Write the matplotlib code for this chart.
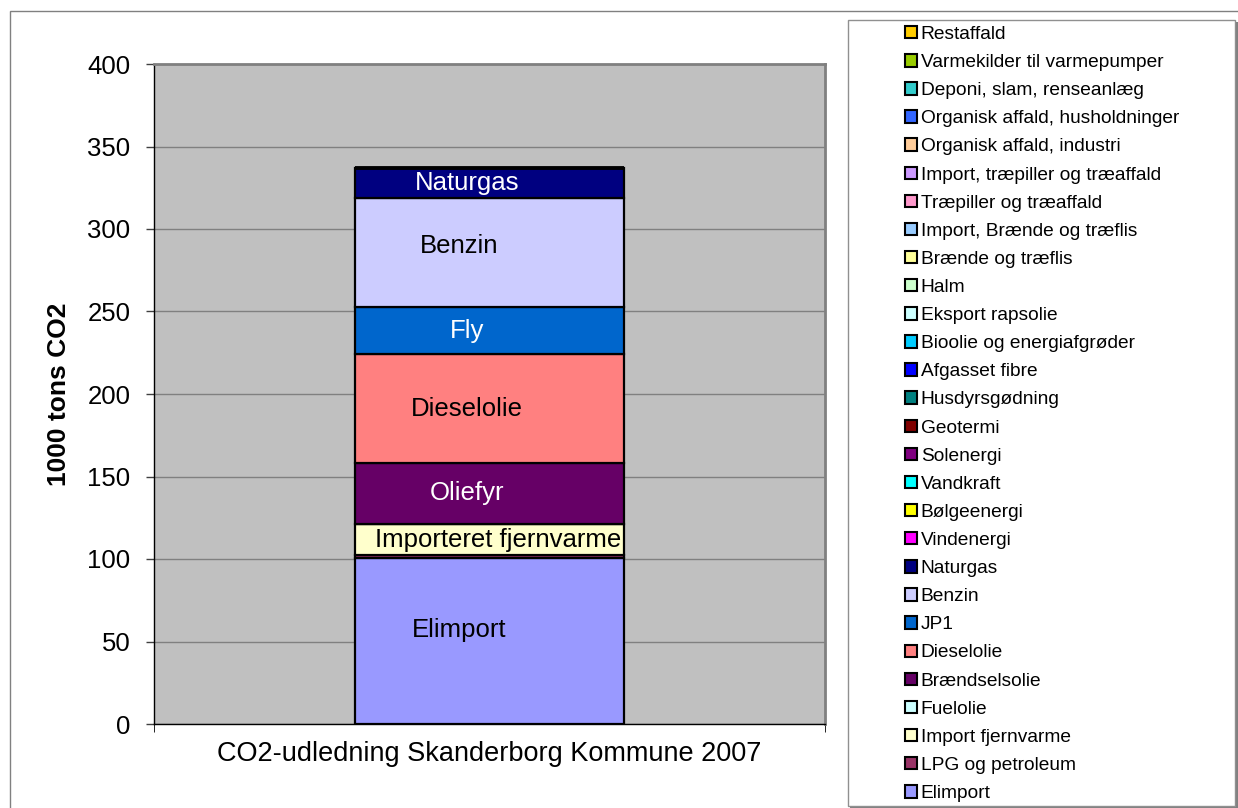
import matplotlib
matplotlib.use('Agg')
import matplotlib.pyplot as plt
from matplotlib.patches import Patch, Rectangle

plt.rcParams['font.family'] = ['Liberation Sans', 'DejaVu Sans']

# stacking order, bottom to top
series = ['Elimport', 'LPG og petroleum', 'Import fjernvarme', 'Fuelolie',
          'Brændselsolie', 'Dieselolie', 'JP1', 'Benzin', 'Naturgas',
          'Vindenergi', 'Bølgeenergi', 'Vandkraft', 'Solenergi', 'Geotermi',
          'Husdyrsgødning', 'Afgasset fibre', 'Bioolie og energiafgrøder',
          'Eksport rapsolie', 'Halm', 'Brænde og træflis',
          'Import, Brænde og træflis', 'Træpiller og træaffald',
          'Import, træpiller og træaffald', 'Organisk affald, industri',
          'Organisk affald, husholdninger', 'Deponi, slam, renseanlæg',
          'Varmekilder til varmepumper', 'Restaffald']
values = [100.5, 1.9, 18.8, 0, 37.0, 66.0, 28.5, 66.0, 18.2,
          0, 0, 0, 0, 0, 0, 0, 0, 0, 0, 0, 0, 0, 0, 0, 0, 0, 0, 0]
colors = ['#9999FF', '#993366', '#FFFFCC', '#CCFFFF', '#660066', '#FF8080',
          '#0066CC', '#CCCCFF', '#000080', '#FF00FF', '#FFFF00', '#00FFFF',
          '#800080', '#800000', '#008080', '#0000FF', '#00CCFF', '#CCFFFF',
          '#CCFFCC', '#FFFF99', '#99CCFF', '#FF99CC', '#CC99FF', '#FFCC99',
          '#3366FF', '#33CCCC', '#99CC00', '#FFCC00']
# text shown inside the bar segments
bar_labels = {'Elimport': 'Elimport',
              'Import fjernvarme': 'Importeret fjernvarme',
              'Brændselsolie': 'Oliefyr',
              'Dieselolie': 'Dieselolie',
              'JP1': 'Fly',
              'Benzin': 'Benzin',
              'Naturgas': 'Naturgas'}
light_text = ['Naturgas', 'JP1', 'Brændselsolie']
# small nudges of label placement (points)
label_nudge = {'Elimport': (-22, 8), 'Benzin': (-22, 5),
               'Import fjernvarme': (6, 0)}

category = 'CO2-udledning Skanderborg Kommune 2007'
yticks = [0, 50, 100, 150, 200, 250, 300, 350, 400]


def main():
    fig = plt.figure(figsize=(12.38, 8.08), dpi=100)
    ax = fig.add_axes([154 / 1238, 84 / 808, 671 / 1238, 660 / 808])
    ax.set_facecolor('#C0C0C0')

    bottom = 0
    for name, val, col in zip(series, values, colors):
        ax.bar(0, val, width=0.4, bottom=bottom, color=col,
               edgecolor='black', linewidth=1.6, zorder=3)
        if name in bar_labels:
            dx, dy = label_nudge.get(name, (-16, 0))
            ax.annotate(bar_labels[name], (0, bottom + val / 2),
                        xytext=(dx, dy), textcoords='offset points',
                        ha='center', va='center', fontsize=18.5, zorder=4,
                        color='white' if name in light_text else 'black')
        bottom += val

    ax.set_xlim(-0.5, 0.5)
    ax.set_ylim(0, 400)
    ax.set_yticks(yticks)
    ax.yaxis.grid(True, color='#808080', linewidth=1, zorder=0)
    ax.tick_params(axis='y', labelsize=18.5, length=6, width=1, pad=11,
                   direction='out', color='#404040')
    ax.set_xticks([0])
    ax.set_xticklabels([category], fontsize=19.5)
    ax.tick_params(axis='x', length=0, pad=12)
    ax.set_xticks([-0.5, 0.5], minor=True)
    ax.tick_params(axis='x', which='minor', length=6, direction='out')
    ax.set_ylabel('1000 tons CO2', fontsize=19, fontweight='bold',
                  labelpad=12)

    for s in ['top', 'right']:
        ax.spines[s].set_color('#808080')
        ax.spines[s].set_linewidth(2)
    for s in ['left', 'bottom']:
        ax.spines[s].set_color('black')
        ax.spines[s].set_linewidth(1)

    # chart area frame
    fig.patches.append(Rectangle((10 / 1238, -0.05), 1.1, 797 / 808 + 0.05,
                                 transform=fig.transFigure, fill=False,
                                 edgecolor='#808080', linewidth=1))
    # legend box with shadow
    fig.patches.append(Rectangle((850 / 1238, 0 / 808), 388 / 1238, 786 / 808,
                                 transform=fig.transFigure, fill=True,
                                 facecolor='#808080', edgecolor='none'))
    fig.patches.append(Rectangle((848 / 1238, 2 / 808), 387 / 1238, 786 / 808,
                                 transform=fig.transFigure, facecolor='white',
                                 edgecolor='#909090', linewidth=1))

    handles = [Patch(facecolor=c, edgecolor='black', linewidth=1.5)
               for c in colors]
    fig.legend(handles[::-1], series[::-1], loc='center',
               bbox_to_anchor=(1042 / 1238, 1 - 414 / 808), frameon=False,
               fontsize=13.8, handlelength=0.62, handleheight=0.62,
               handletextpad=0.2, labelspacing=0.58, borderpad=0)

    fig.savefig('out.png', dpi=100)


if __name__ == '__main__':
    main()
